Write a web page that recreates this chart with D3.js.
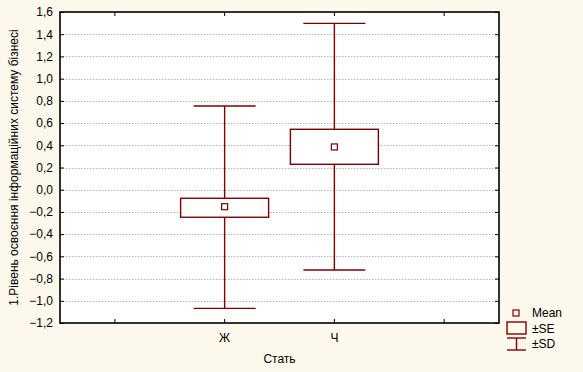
<!DOCTYPE html>
<html lang="uk">
<head>
<meta charset="UTF-8">
<script src="https://d3js.org/d3.v7.min.js"></script>
<style>
  body { margin: 0; background: #fdf8ec; }
  svg { display: block; font-family: "Liberation Sans", Arial, sans-serif; font-size: 12px; }
  .grid line { stroke: #b4b4b4; stroke-dasharray: 1.5 1.5; }
</style>
</head>
<body>
<svg width="583" height="372"></svg>
<script>
// x slots: blank, Ж, Ч, blank
const slots = ["", "Ж", "Ч", " "];
const groups = ["Ж", "Ч"];
const means = [-0.153, 0.385];
const seLow = [-0.248, 0.229];
const seHigh = [-0.077, 0.544];
const sdLow = [-1.068, -0.723];
const sdHigh = [0.754, 1.498];
const yTicks = [-1.2, -1.0, -0.8, -0.6, -0.4, -0.2, 0.0, 0.2, 0.4, 0.6, 0.8, 1.0, 1.2, 1.4, 1.6];

const svg = d3.select("svg");
const m = { left: 60, right: 499, top: 12, bottom: 323 };
const col = "#800000";

const x = d3.scaleBand().domain(slots).range([m.left, m.right]);
const y = d3.scaleLinear().domain([-1.2, 1.6]).range([m.bottom, m.top]);
const xc = d => x(d) + x.bandwidth() / 2;

svg.append("rect")
  .attr("x", m.left).attr("y", m.top)
  .attr("width", m.right - m.left).attr("height", m.bottom - m.top)
  .attr("fill", "#fff");

// gridlines
svg.append("g").attr("class", "grid")
  .selectAll("line")
  .data(yTicks.slice(1, -1))
  .join("line")
  .attr("x1", m.left).attr("x2", m.right)
  .attr("y1", d => Math.round(y(d)) + 0.5).attr("y2", d => Math.round(y(d)) + 0.5);

// axes
const fmt = d => d3.format(".1f")(d).replace(".", ",").replace("-0,0", "0,0");
svg.append("g")
  .attr("transform", `translate(${m.left},0)`)
  .call(d3.axisLeft(y).tickValues(yTicks).tickFormat(fmt).tickSize(-4).tickPadding(7))
  .call(g => g.select(".domain").remove())
  .call(g => g.selectAll("text").attr("fill", "#000").style("font-size", "12px"));
svg.append("g")
  .attr("transform", `translate(${m.right},0)`)
  .call(d3.axisRight(y).tickValues(yTicks).tickFormat("").tickSize(-4))
  .call(g => g.select(".domain").remove());
svg.append("g")
  .attr("transform", `translate(0,${m.bottom})`)
  .call(d3.axisBottom(x).tickSize(-4).tickPadding(10))
  .call(g => g.select(".domain").remove())
  .call(g => g.selectAll("text").attr("fill", "#000").style("font-size", "12px"));
svg.append("g")
  .attr("transform", `translate(0,${m.top})`)
  .call(d3.axisTop(x).tickFormat("").tickSize(-4))
  .call(g => g.select(".domain").remove());

svg.append("rect")
  .attr("x", m.left).attr("y", m.top)
  .attr("width", m.right - m.left).attr("height", m.bottom - m.top)
  .attr("fill", "none").attr("stroke", "#000").attr("stroke-width", 1.6);

// whiskers + boxes
const boxW = 88, capW = 62, mk = 6;
const g = svg.append("g").attr("stroke", col).attr("stroke-width", 1.4).attr("fill", "none");
groups.forEach((k, i) => {
  const cx = xc(k);
  g.append("line").attr("x1", cx).attr("x2", cx).attr("y1", y(sdHigh[i])).attr("y2", y(sdLow[i]));
  g.append("line").attr("x1", cx - capW / 2).attr("x2", cx + capW / 2).attr("y1", y(sdHigh[i])).attr("y2", y(sdHigh[i]));
  g.append("line").attr("x1", cx - capW / 2).attr("x2", cx + capW / 2).attr("y1", y(sdLow[i])).attr("y2", y(sdLow[i]));
  g.append("rect").attr("x", cx - boxW / 2).attr("width", boxW)
    .attr("y", y(seHigh[i])).attr("height", y(seLow[i]) - y(seHigh[i])).attr("fill", "#fff");
  g.append("rect").attr("x", cx - mk / 2).attr("y", y(means[i]) - mk / 2)
    .attr("width", mk).attr("height", mk).attr("stroke-width", 1.2);
});

// axis titles
svg.append("text").attr("x", (m.left + m.right) / 2).attr("y", 363)
  .attr("text-anchor", "middle").text("Стать");
svg.append("text")
  .attr("transform", `translate(18,${(m.top + m.bottom) / 2}) rotate(-90)`)
  .attr("text-anchor", "middle").text("1.Рівень освоєння інформаційних систему бізнесі");

// legend
const lg = svg.append("g").attr("stroke", col).attr("stroke-width", 1.4).attr("fill", "none");
lg.append("rect").attr("x", 513).attr("y", 310).attr("width", 6).attr("height", 6).attr("stroke-width", 1.2);
lg.append("rect").attr("x", 507).attr("y", 322).attr("width", 19).attr("height", 12);
lg.append("line").attr("x1", 507).attr("x2", 526).attr("y1", 338).attr("y2", 338);
lg.append("line").attr("x1", 516.5).attr("x2", 516.5).attr("y1", 338).attr("y2", 350);
lg.append("line").attr("x1", 507).attr("x2", 526).attr("y1", 350).attr("y2", 350);
const lt = svg.append("g").attr("fill", "#000");
lt.append("text").attr("x", 532).attr("y", 317).text("Mean");
lt.append("text").attr("x", 532).attr("y", 333).text("±SE");
lt.append("text").attr("x", 532).attr("y", 348).text("±SD");
</script>
</body>
</html>
